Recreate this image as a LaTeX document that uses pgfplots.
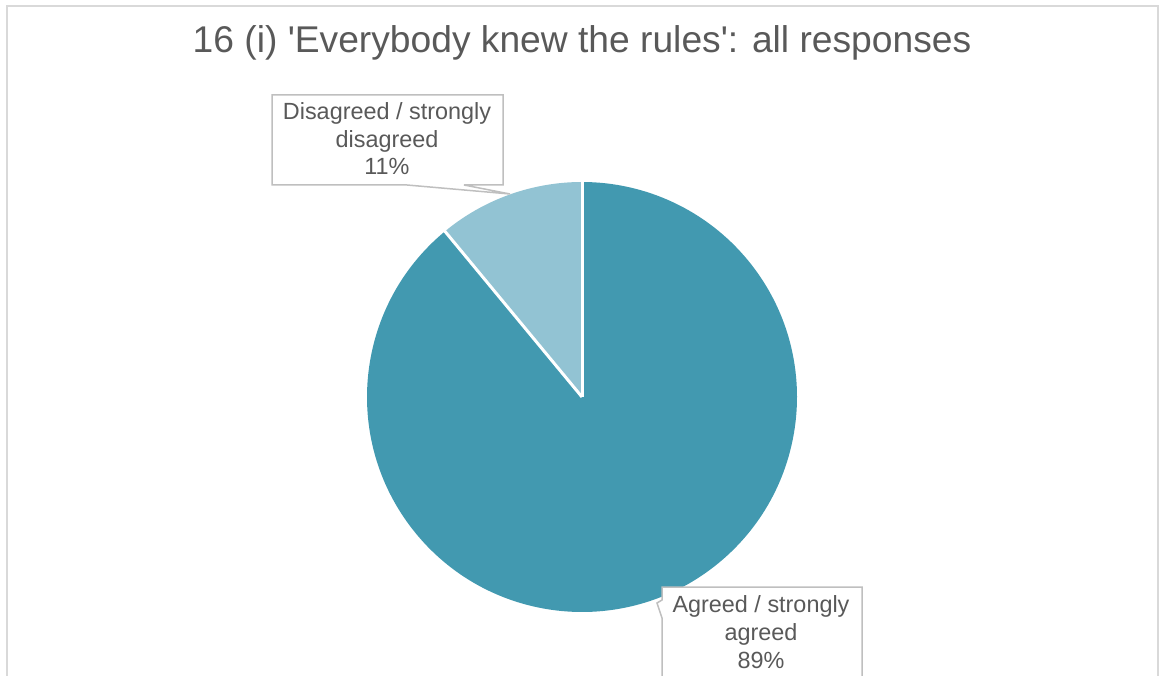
\documentclass[border=0pt]{standalone}
\usepackage{pgfplots}
\pgfplotsset{compat=1.18}
\usepackage{pgfplotstable}
\usepackage{fontspec}
\setmainfont{Liberation Sans}
\newfontfamily\titlefont{Liberation Sans}
\definecolor{agreeC}{HTML}{4299B0}
\definecolor{disC}{HTML}{92C3D3}
\definecolor{txtC}{HTML}{595959}
\definecolor{frameC}{HTML}{D9D9D9}
\definecolor{boxC}{HTML}{BFBFBF}
\pgfplotstableread{
label value
Agreed 89
Disagreed 11
}\piedata
\begin{document}
\begin{tikzpicture}
\pgfplotstablegetelem{0}{value}\of\piedata \let\vA\pgfplotsretval
\pgfplotstablegetelem{1}{value}\of\piedata \let\vD\pgfplotsretval
\pgfmathsetmacro{\aD}{90+360*\vD/(\vA+\vD)}
\begin{axis}[at={(0,0)},anchor=south west, scale only axis, width=580pt, height=337.5pt,
  xmin=0,xmax=1160,ymin=0,ymax=675, hide axis, clip=false]
% frame
\draw[frameC, line width=0.9pt] (axis cs:7,-5) -- (axis cs:7,669) -- (axis cs:1158,669) -- (axis cs:1158,-5);
% title
\node[anchor=base, text=txtC, font=\titlefont\fontsize{18.6pt}{22pt}\selectfont] at (axis cs:582,622) {16 (i) 'Everybody knew the rules': all responses};
% pie slices
\fill[disC] (axis cs:582,278) -- ++(90:107.5pt) arc[start angle=90,end angle=\aD,radius=107.5pt] -- cycle;
\fill[agreeC] (axis cs:582,278) -- ++(\aD:107.5pt) arc[start angle=\aD,end angle=450,radius=107.5pt] -- cycle;
\draw[white,line width=1.5pt] (axis cs:582,278) -- ++(90:107.8pt);
\draw[white,line width=1.5pt] (axis cs:582,278) -- ++(\aD:107.8pt);
% callout boxes
\draw[boxC, line width=0.75pt, fill=white, line join=miter] (axis cs:272,490) -- (axis cs:407,490) -- (axis cs:510,481) -- (axis cs:464,490) -- (axis cs:503,490) -- (axis cs:503,580) -- (axis cs:272,580) -- cycle;
\draw[boxC, line width=0.75pt, fill=white, line join=miter] (axis cs:662,-20) -- (axis cs:662,57) -- (axis cs:657,72) -- (axis cs:662,75) -- (axis cs:662,88) -- (axis cs:862,88) -- (axis cs:862,-20);
% labels
\begin{scope}[every node/.style={anchor=base, text=txtC, font=\fontsize{11.7pt}{14pt}\selectfont, inner sep=0pt}]
\node at (axis cs:387,555) {Disagreed / strongly};
\node at (axis cs:387,527) {disagreed};
\node at (axis cs:387,500) {11\%};
\node at (axis cs:761,63) {Agreed / strongly};
\node at (axis cs:761,35) {agreed};
\node at (axis cs:761,7) {89\%};
\end{scope}
\end{axis}
\pgfresetboundingbox
\path (0,0) rectangle (580pt,337.5pt);
\end{tikzpicture}
\end{document}
